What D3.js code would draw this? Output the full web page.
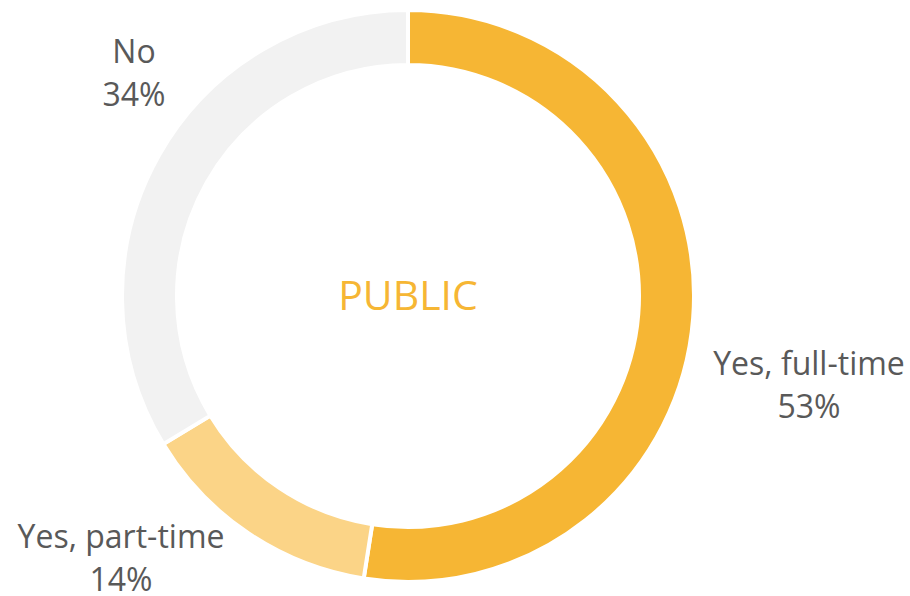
<!DOCTYPE html>
<html>
<head>
<meta charset="utf-8">
<script src="https://cdn.jsdelivr.net/npm/d3@7"></script>
<style>
  body { margin: 0; background: #fff; }
  text { font-family: "Open Sans", "Noto Sans", sans-serif; }
</style>
</head>
<body>
<svg id="chart" width="910" height="596"></svg>
<script>
const categories = ["Yes, full-time", "Yes, part-time", "No"]
const values = [53, 14, 34]
const valueLabels = ["53%", "14%", "34%"]
const colors = ["#F6B634", "#FBD487", "#F2F2F2"]
const centerTitle = "PUBLIC"

const svg = d3.select("#chart")
const cx = 408, cy = 296
const outerR = 286, innerR = 231

const pie = d3.pie().sort(null).value(d => d.value)
const arc = d3.arc().innerRadius(innerR).outerRadius(outerR)

const data = categories.map((c, i) => ({name: c, value: values[i], label: valueLabels[i], color: colors[i]}))

const g = svg.append("g").attr("transform", `translate(${cx},${cy})`)

g.selectAll("path")
    .data(pie(data))
    .join("path")
    .attr("d", arc)
    .attr("fill", d => d.data.color)
    .attr("stroke", "#fff")
    .attr("stroke-width", 4)

g.append("text")
    .attr("text-anchor", "middle")
    .attr("y", 14)
    .attr("fill", "#F6B634")
    .attr("font-size", 41)
    .text(centerTitle)

// label positions, chosen by eye
const labelPos = [[809, 375], [121, 548], [134, 63]]

const labels = svg.selectAll("g.lbl")
    .data(data)
    .join("g")
    .attr("class", "lbl")
    .attr("transform", (d, i) => `translate(${labelPos[i][0]},${labelPos[i][1]})`)

labels.append("text")
    .attr("text-anchor", "middle")
    .attr("fill", "#595959")
    .attr("font-size", 32)
    .text(d => d.name)

labels.append("text")
    .attr("text-anchor", "middle")
    .attr("y", 43)
    .attr("fill", "#595959")
    .attr("font-size", 32)
    .text(d => d.label)
</script>
</body>
</html>
